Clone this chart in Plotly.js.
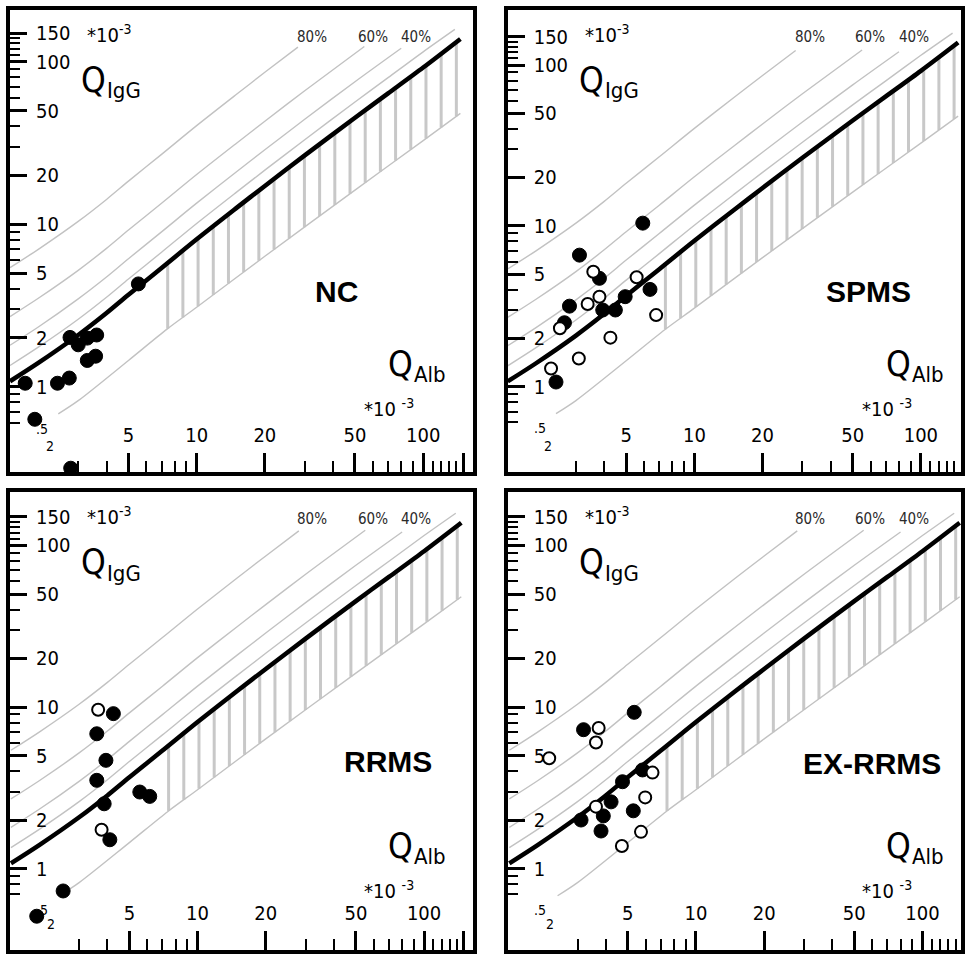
<!DOCTYPE html>
<html><head><meta charset="utf-8">
<script src="https://cdn.plot.ly/plotly-3.0.1.min.js"></script>
<style>html,body{margin:0;padding:0;background:#fff}</style>
</head><body>
<div id="chart" style="width:966px;height:954px"></div>
<script>
// ---------------- data (x = Q_Alb*10^-3, y = Q_IgG*10^-3) ----------------
const panelNames = ['NC', 'SPMS', 'RRMS', 'EX-RRMS'];

const ncFilledX = [1.75, 1.93, 2.78, 2.43, 2.74, 2.76, 3.00, 3.29, 3.62, 3.29, 3.58, 5.53];
const ncFilledY = [1.05, 0.63, 0.315, 1.05, 1.13, 2.01, 1.81, 1.99, 2.08, 1.45, 1.54, 4.29];
const ncOpenX = [];
const ncOpenY = [];

const spmsFilledX = [5.92, 3.11, 3.81, 2.81, 2.67, 3.94, 4.48, 4.95, 6.37, 2.45];
const spmsFilledY = [10.4, 6.58, 4.72, 3.17, 2.50, 3.00, 3.00, 3.63, 4.03, 1.07];
const spmsOpenX = [3.58, 3.81, 3.38, 2.55, 5.56, 6.78, 4.26, 3.09, 2.33];
const spmsOpenY = [5.19, 3.63, 3.27, 2.31, 4.79, 2.79, 2.02, 1.50, 1.30];

const rrmsFilledX = [1.95, 2.55, 3.59, 4.25, 3.94, 3.59, 3.87, 4.10, 5.56, 6.15];
const rrmsFilledY = [0.508, 0.728, 6.83, 9.10, 4.68, 3.52, 2.52, 1.51, 2.98, 2.80];
const rrmsOpenX = [3.64, 3.77];
const rrmsOpenY = [9.62, 1.74];

const exFilledX = [5.34, 3.19, 4.74, 5.81, 4.22, 3.11, 3.90, 3.81, 5.29];
const exFilledY = [9.27, 7.24, 3.45, 4.08, 2.59, 2.00, 2.12, 1.71, 2.28];
const exOpenX = [3.72, 3.62, 2.25, 6.43, 5.97, 3.62, 5.72, 4.71];
const exOpenY = [7.41, 6.03, 4.82, 3.93, 2.76, 2.42, 1.69, 1.38];

// reference curves of the diagram
const limitAlb = [1.5, 2, 3, 4, 5, 7, 10, 15, 20, 30, 50, 70, 100, 146];
const limitIgG = [1.08, 1.40, 2.08, 2.84, 3.68, 5.38, 8.08, 12.6, 17.2, 26.5, 45.2, 63.8, 92, 138];
const lowerAlb = [2.45, 3, 5, 7.4, 10, 20, 50, 100, 146];
const lowerIgG = [0.68, 0.82, 1.45, 2.26, 3.08, 6.35, 16.2, 32.7, 48.1];
const if20Alb = [1.5, 2, 3, 4, 5, 7, 10, 15, 20, 30, 50, 70, 100, 138];
const if20IgG = [1.35, 1.75, 2.6, 3.55, 4.6, 6.72, 10.1, 15.75, 21.5, 33.1, 56.5, 79.75, 115, 158];
const if40Alb = [1.5, 2, 3, 4, 5, 7, 10, 15, 20, 30, 50, 80];
const if40IgG = [1.8, 2.33, 3.47, 4.73, 6.13, 8.97, 13.47, 21.0, 28.7, 44.2, 75.3, 121];
const if60Alb = [1.5, 2, 3, 4, 5, 7, 10, 15, 20, 30, 55];
const if60IgG = [2.7, 3.5, 5.2, 7.1, 9.2, 13.45, 20.2, 31.5, 43, 66.25, 124];
const if80Alb = [1.5, 2, 3, 4, 5, 7, 10, 15, 20, 28];
const if80IgG = [5.4, 7.0, 10.4, 14.2, 18.4, 26.9, 40.4, 63, 86, 123];
const ifLabels = ['80%', '60%', '40%'];

// axis ticks
const xTickVals = [2, 5, 10, 20, 50, 100, 150];
const xTickText = ['', '5', '10', '20', '50', '100', ''];
const xMinorVals = [3, 4, 6, 7, 8, 9, 30, 40, 60, 70, 80, 90, 110, 120, 130, 140];
const yTickVals = [0.5, 1, 2, 5, 10, 20, 50, 100, 150];
const yTickText = ['', '1', '2', '5', '10', '20', '50', '100', '150'];
const yMinorVals = [0.6, 0.7, 0.8, 0.9, 3, 4, 6, 7, 8, 9, 30, 40, 60, 70, 80, 90, 110, 120, 130, 140];

// ---------------- layout geometry ----------------
const W = 966, H = 954;
const FONT = 'DejaVu Sans Condensed, DejaVu Sans, sans-serif';
const panels = [
  {L: 10,    R: 473, T: 10,  B: 472,   xr: [0.176, 2.220], yr: [-0.525, 2.318], lab: [326.7, 281]},
  {L: 507.7, R: 961, T: 10,  B: 471.7, xr: [0.176, 2.177], yr: [-0.528, 2.342], lab: [361, 281]},
  {L: 10,    R: 473, T: 492, B: 950,   xr: [0.172, 2.216], yr: [-0.503, 2.330], lab: [378, 269]},
  {L: 507.7, R: 961, T: 492, B: 950,   xr: [0.169, 2.170], yr: [-0.503, 2.330], lab: [364, 271]}
];
const series = [
  [ncFilledX, ncFilledY, ncOpenX, ncOpenY],
  [spmsFilledX, spmsFilledY, spmsOpenX, spmsOpenY],
  [rrmsFilledX, rrmsFilledY, rrmsOpenX, rrmsOpenY],
  [exFilledX, exFilledY, exOpenX, exOpenY]
];

function px(x) { return x / W; }
function py(y) { return 1 - y / H; }
function interp(xs, ys, q) {
  const lq = Math.log10(q);
  for (let j = 0; j < xs.length - 1; j++) {
    const a = Math.log10(xs[j]), b = Math.log10(xs[j + 1]);
    if (lq >= a && lq <= b) {
      const t = (lq - a) / (b - a);
      return Math.pow(10, Math.log10(ys[j]) + t * (Math.log10(ys[j + 1]) - Math.log10(ys[j])));
    }
  }
  return ys[ys.length - 1];
}

const traces = [];
const layout = {
  width: W, height: H, margin: {l: 0, r: 0, t: 0, b: 0},
  paper_bgcolor: '#fff', plot_bgcolor: '#fff', showlegend: false,
  annotations: []
};

panels.forEach((p, i) => {
  const xa = i === 0 ? 'x' : 'x' + (i + 1);
  const ya = i === 0 ? 'y' : 'y' + (i + 1);
  const common = {xaxis: xa, yaxis: ya, hoverinfo: 'skip', showlegend: false};

  // hatched normal range
  const hx = [], hy = [];
  for (let k = 0; k < 20; k++) {
    const q = 7.45 * Math.pow(1.167, k);
    hx.push(q, q, null);
    hy.push(interp(lowerAlb, lowerIgG, q), interp(limitAlb, limitIgG, q), null);
  }
  traces.push(Object.assign({x: hx, y: hy, mode: 'lines', line: {color: '#c8c8c8', width: 3}}, common));

  // intrathecal fraction lines
  [[if20Alb, if20IgG], [if40Alb, if40IgG], [if60Alb, if60IgG], [if80Alb, if80IgG]].forEach(c => {
    traces.push(Object.assign({x: c[0], y: c[1], mode: 'lines',
      line: {color: '#c2c2c2', width: 1.4, shape: 'spline', smoothing: 0.8}}, common));
  });
  // lower limit
  traces.push(Object.assign({x: lowerAlb, y: lowerIgG, mode: 'lines',
    line: {color: '#c2c2c2', width: 1.4, shape: 'spline', smoothing: 0.8}}, common));
  // upper limit (thick)
  traces.push(Object.assign({x: limitAlb, y: limitIgG, mode: 'lines',
    line: {color: '#000', width: 4.5, shape: 'spline', smoothing: 0.8}}, common));

  const s = series[i];
  traces.push(Object.assign({x: s[0], y: s[1], mode: 'markers', cliponaxis: false,
    marker: {size: 14, color: '#000', line: {color: '#000', width: 1}}}, common));
  traces.push(Object.assign({x: s[2], y: s[3], mode: 'markers', cliponaxis: false,
    marker: {size: 12, color: '#fff', line: {color: '#000', width: 2}}}, common));

  const axBase = {
    type: 'log', showline: true, linewidth: 4, linecolor: '#000', mirror: true,
    showgrid: false, zeroline: false, ticks: 'inside', tickcolor: '#000',
    tickmode: 'array', ticklabelposition: 'inside', fixedrange: true,
    tickfont: {family: FONT, size: 20, color: '#000'}
  };
  layout['xaxis' + (i === 0 ? '' : i + 1)] = Object.assign({}, axBase, {
    domain: [px(p.L), px(p.R)], range: p.xr, anchor: ya,
    ticklen: 19, tickwidth: 3, tickvals: xTickVals, ticktext: xTickText, ticklabelstandoff: 8,
    minor: {tickmode: 'array', tickvals: xMinorVals, ticks: 'inside', ticklen: 11, tickwidth: 2, tickcolor: '#000', showgrid: false}
  });
  layout['yaxis' + (i === 0 ? '' : i + 1)] = Object.assign({}, axBase, {
    domain: [py(p.B), py(p.T)], range: p.yr, anchor: xa,
    ticklen: 17, tickwidth: 3, tickvals: yTickVals, ticktext: yTickText, ticklabelstandoff: 10,
    minor: {tickmode: 'array', tickvals: yMinorVals, ticks: 'inside', ticklen: 10, tickwidth: 2, tickcolor: '#000', showgrid: false}
  });

  const A = layout.annotations;
  function txt(text, dx, dy, size, opts) {
    A.push(Object.assign({text: text, xref: 'paper', yref: 'paper', x: px(p.L + dx), y: py(p.T + dy),
      xanchor: 'left', yanchor: 'middle', showarrow: false,
      font: {family: FONT, size: size, color: '#000'}}, opts || {}));
  }
  txt('*10<sup>-3</sup>', 75, 24, 20);
  txt('Q', 69, 70, 35);
  txt('IgG', 95, 81, 22);
  txt('Q', 376, 354, 35);
  txt('Alb', 402, 364, 22);
  txt('*10 <sup>-3</sup>', 352, 398, 20);
  txt('<b>' + panelNames[i] + '</b>', p.lab[0], p.lab[1], 30,
    {xanchor: 'center', font: {family: 'Liberation Sans, Arial, sans-serif', size: 30, color: '#000'}});
  const pf = {family: FONT, size: 15, color: '#2a2a2a'};
  txt(ifLabels[0], 302, 27, 15, {xanchor: 'center', font: pf});
  txt(ifLabels[1], 362.7, 27, 15, {xanchor: 'center', font: pf});
  txt(ifLabels[2], 406, 27, 15, {xanchor: 'center', font: pf});
  // small ".5" label of the y axis and "2" label of the x axis
  A.push({text: '.5', xref: 'paper', yref: ya, x: px(p.L + 25), y: Math.log10(yTickVals[0]), yshift: 7,
    xanchor: 'left', yanchor: 'middle', showarrow: false, borderpad: 0,
    font: {family: FONT, size: 14, color: '#000'}});
  A.push({text: String(xTickVals[0]), xref: xa, yref: 'paper', x: Math.log10(xTickVals[0]), xshift: 12,
    y: py(p.B - 26), xanchor: 'center', yanchor: 'middle', showarrow: false, borderpad: 0,
    font: {family: FONT, size: 14, color: '#000'}});
});

Plotly.newPlot('chart', traces, layout, {displayModeBar: false, staticPlot: true});
</script>
</body></html>
